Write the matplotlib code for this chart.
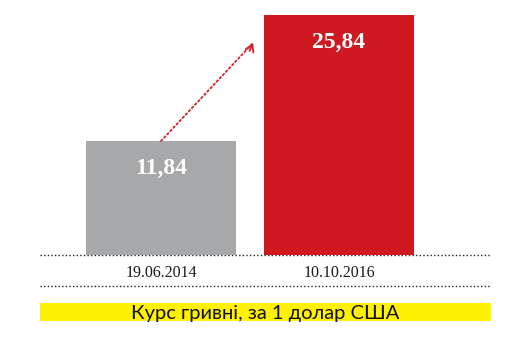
import matplotlib
matplotlib.use("Agg")
import matplotlib.pyplot as plt
from matplotlib.patches import Rectangle
from matplotlib.lines import Line2D
from matplotlib.transforms import blended_transform_factory

dates = ["19.06.2014", "10.10.2016"]
values = [11.84, 25.84]
value_labels = ["11,84", "25,84"]
colors = ["#A7A8AA", "#CF1820"]
caption = "Курс гривні, за 1 долар США"

W, H = 521, 343
fig = plt.figure(figsize=(W / 100, H / 100), dpi=100)
fig.patch.set_facecolor("white")

# axes spanning pixel x 40..490, y 15..255 (from top)
ax = fig.add_axes([40 / W, (H - 255) / H, 450 / W, 240 / H])
ax.set_xlim(-0.68, 1.848)
ymin = -0.83
ax.set_ylim(ymin, max(values))
ax.axis("off")

xs = list(range(len(values)))
ax.bar(xs, [v - ymin for v in values], bottom=ymin, width=0.843, color=colors, zorder=2)

for x, v, lab in zip(xs, values, value_labels):
    ax.annotate(lab, (x, v), xytext=(0, -20), textcoords="offset points",
                ha="center", va="center", color="white", fontsize=17,
                fontweight="bold", family="Liberation Serif", zorder=3)

# baseline dotted
ax.axhline(ymin, color="#222222", linestyle=(0, (1, 1.6)), linewidth=1.0,
           xmin=0, xmax=1, clip_on=False, zorder=1)

# date labels
trans = blended_transform_factory(ax.transData, fig.transFigure)
for x, d in zip(xs, dates):
    ax.text(x, (H - 273) / H, d, transform=trans, ha="center", va="center",
            fontsize=11.5, color="#1a1a1a", family="Liberation Serif")

# second dotted line
fig.add_artist(Line2D([40 / W, 490 / W], [(H - 286) / H] * 2, transform=fig.transFigure,
                      color="#222222", linestyle=(0, (1, 1.6)), linewidth=1.0))

# arrow from top of first bar toward second bar
start = (xs[0], values[0])
end = (0.517, values[1] - 3.1)
ax.annotate("", xy=end, xytext=start,
            arrowprops=dict(arrowstyle="-", color="#D0202A", linestyle=(0, (1, 1.5)),
                            linewidth=1.3, shrinkA=0, shrinkB=0), zorder=4)
ax.annotate("", xy=end, xytext=(end[0] - 0.02, end[1] - 0.9),
            arrowprops=dict(arrowstyle="->,head_length=0.5,head_width=0.3", color="#D0202A",
                            linewidth=1.3, shrinkA=0, shrinkB=0), zorder=4)

# caption banner
fig.add_artist(Rectangle((40 / W, (H - 321) / H), 451 / W, 18 / H, transform=fig.transFigure,
                         facecolor="#FFF200", edgecolor="none", zorder=0))
fig.text(265 / W, (H - 313) / H, caption, ha="center", va="center", fontsize=14.5,
         color="#111111", family="Lato")

fig.savefig("out.png", dpi=100, facecolor="white")
